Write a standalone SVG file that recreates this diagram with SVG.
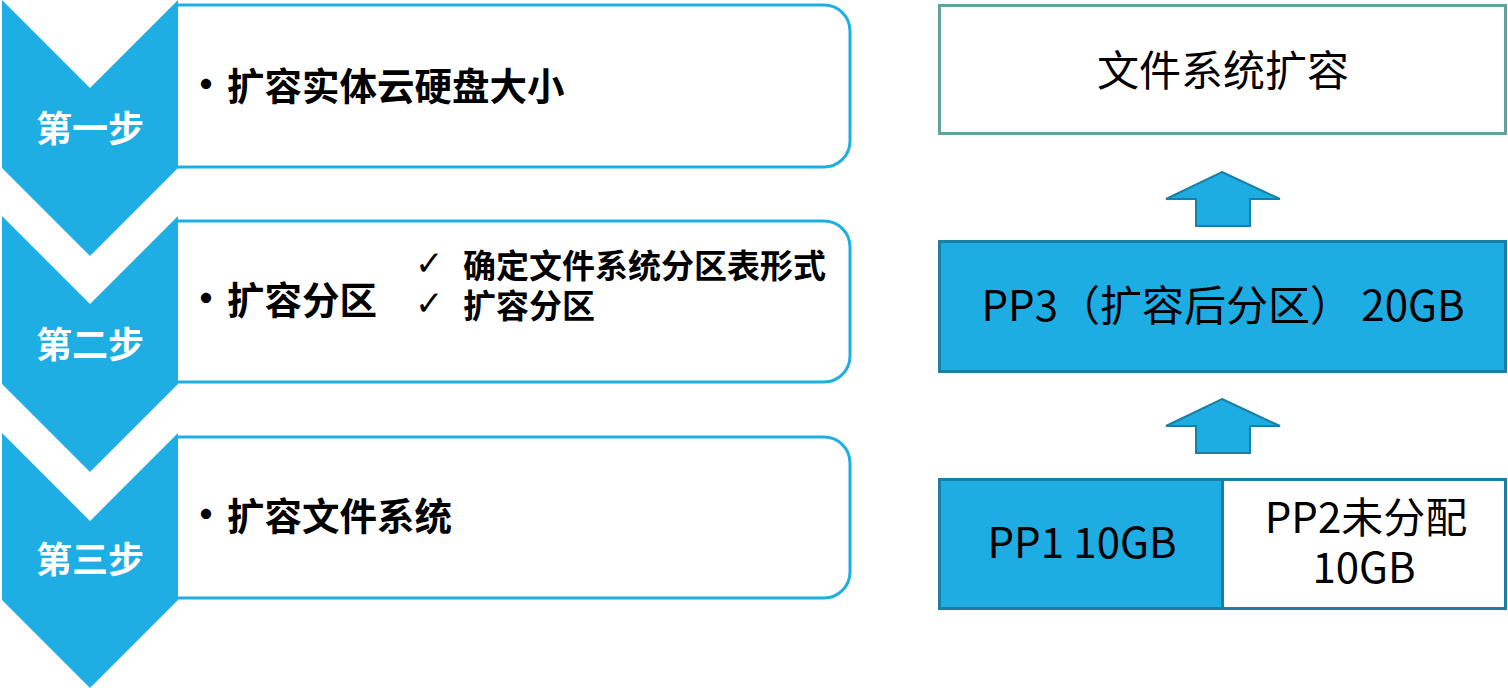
<svg xmlns="http://www.w3.org/2000/svg" width="1508" height="688" viewBox="0 0 1508 688">
<style>
.box{fill:#ffffff;stroke:#1FAEE3;stroke-width:3}
.chev{fill:#1FAEE3}
.lbl{font-family:"Noto Sans CJK SC",sans-serif;font-weight:bold;font-size:36px;fill:#ffffff;text-anchor:middle}
.item{font-family:"Noto Sans CJK SC",sans-serif;font-weight:bold;font-size:37.5px;fill:#000000}
.dot{font-family:"Noto Sans CJK SC",sans-serif;font-weight:bold;font-size:40px;fill:#000000;text-anchor:middle}
.sub{font-family:"Noto Sans CJK SC",sans-serif;font-weight:bold;font-size:33px;fill:#000000}
.chk{font-family:"DejaVu Sans",sans-serif;font-size:34px;fill:#000000}
.rt{font-family:"Noto Sans CJK SC",sans-serif;font-size:42px;fill:#000000;text-anchor:middle}
.blue{fill:#1EADE3;stroke:#1A7FA6;stroke-width:3}
.arrow{fill:#1EADE3;stroke:#1A7FA6;stroke-width:2}
</style>
<rect width="1508" height="688" fill="#ffffff"/>
<g id="step1">
<path class="box" d="M177,5 H824 A26,26 0 0 1 850,31 V141 A26,26 0 0 1 824,167 H177"/>
<polygon class="chev" points="2,0 90,88 178,0 178,168 90,256 2,168"/>
<text class="lbl" x="90" y="142">第一步</text>
<text class="dot" x="206" y="99">•</text>
<text class="item" x="227" y="100">扩容实体云硬盘大小</text>
</g>
<g id="step2">
<path class="box" d="M177,221 H824 A26,26 0 0 1 850,247 V356 A26,26 0 0 1 824,382 H177"/>
<polygon class="chev" points="2,216 90,304 178,216 178,384 90,472 2,384"/>
<text class="lbl" x="90" y="358">第二步</text>
<text class="dot" x="206" y="313">•</text>
<text class="item" x="227" y="314">扩容分区</text>
<text class="chk" x="415" y="275">✓</text>
<text class="sub" x="463" y="278">确定文件系统分区表形式</text>
<text class="chk" x="415" y="315">✓</text>
<text class="sub" x="463" y="318">扩容分区</text>
</g>
<g id="step3">
<path class="box" d="M177,437 H824 A26,26 0 0 1 850,463 V572 A26,26 0 0 1 824,598 H177"/>
<polygon class="chev" points="2,433 90,521 178,433 178,600 90,688 2,600"/>
<text class="lbl" x="90" y="573">第三步</text>
<text class="dot" x="206" y="529">•</text>
<text class="item" x="227" y="530">扩容文件系统</text>
</g>
<g id="fs">
<rect x="939.5" y="5.5" width="566" height="128" fill="#ffffff" stroke="#5FA39C" stroke-width="3"/>
<text class="rt" x="1223" y="86">文件系统扩容</text>
</g>
<g id="pp3">
<rect class="blue" x="939.5" y="241.5" width="566" height="130"/>
<text class="rt" x="1223" y="321">PP3（扩容后分区） 20GB</text>
</g>
<g id="pp1">
<rect class="blue" x="939.5" y="479.5" width="283" height="129"/>
<text class="rt" x="1082" y="558">PP1 10GB</text>
</g>
<g id="pp2">
<rect x="1222.5" y="479.5" width="283" height="129" fill="#ffffff" stroke="#1A7FA6" stroke-width="3"/>
<text class="rt" x="1366" y="533">PP2未分配</text>
<text class="rt" x="1364" y="583">10GB</text>
</g>
<g id="connectors">
<polygon class="arrow" points="1222,172 1280,199 1250,199 1250,226 1196,226 1196,199 1166,199"/>
<polygon class="arrow" points="1222,399 1280,426 1250,426 1250,453 1196,453 1196,426 1166,426"/>
</g>
</svg>
